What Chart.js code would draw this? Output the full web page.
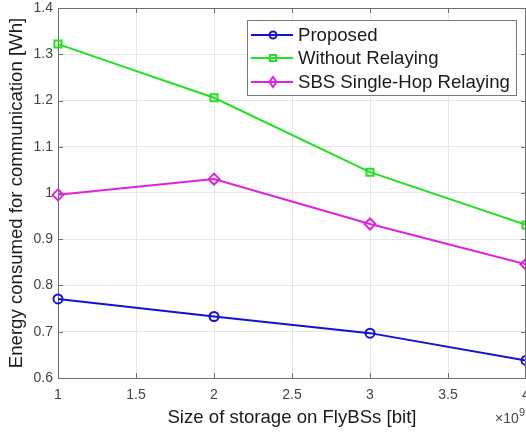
<!DOCTYPE html>
<html>
<head>
<meta charset="utf-8">
<script src="https://cdn.jsdelivr.net/npm/chart.js@4/dist/chart.umd.min.js"></script>
<style>
  html, body { margin: 0; padding: 0; background: #fff; }
  #wrap { width: 526px; height: 433px; }
</style>
</head>
<body>
<div id="wrap"><canvas id="mychart" width="526" height="433"></canvas></div>
<script>
'use strict'

// data

let storageSize = [1, 2, 3, 4]; // x 10^9 bit
let proposed = [0.771, 0.733, 0.697, 0.638];
let withoutRelaying = [1.322, 1.206, 1.045, 0.931];
let sbsSingleHop = [0.996, 1.030, 0.933, 0.846];

let seriesNames = ['Proposed', 'Without Relaying', 'SBS Single-Hop Relaying'];
let seriesColors = ['#1212d2', '#22e022', '#e020e0'];
let xTicks = [1, 1.5, 2, 2.5, 3, 3.5, 4];
let yTicks = [0.6, 0.7, 0.8, 0.9, 1, 1.1, 1.2, 1.3, 1.4];

const FONT = "'Liberation Sans', Arial, Helvetica, sans-serif";

function toPoints(values) {
  return storageSize.map((x, i) => ({ x: x, y: values[i] }));
}

// marker drawing for legend
function drawMarker(ctx, kind, x, y, color) {
  ctx.save();
  ctx.strokeStyle = color;
  ctx.lineWidth = 2;
  ctx.beginPath();
  if (kind === 'circle') {
    ctx.arc(x, y, 3.5, 0, Math.PI * 2);
  } else if (kind === 'rect') {
    ctx.rect(x - 3, y - 3, 6, 6);
  } else {
    ctx.moveTo(x, y - 5);
    ctx.lineTo(x + 3.5, y);
    ctx.lineTo(x, y + 5);
    ctx.lineTo(x - 3.5, y);
    ctx.closePath();
  }
  ctx.stroke();
  ctx.restore();
}

// box, inner ticks, legend and exponent
const matlabLook = {
  id: 'matlabLook',
  afterDraw(chart) {
    const ctx = chart.ctx;
    const a = chart.chartArea;
    const xs = chart.scales.x;
    const ys = chart.scales.y;

    ctx.save();
    ctx.strokeStyle = '#6e6e6e';
    ctx.lineWidth = 1;
    ctx.beginPath();
    ctx.moveTo(a.left, a.top + 0.5);
    ctx.lineTo(a.right, a.top + 0.5);
    ctx.moveTo(a.right - 0.5, a.top);
    ctx.lineTo(a.right - 0.5, a.bottom);
    for (let t of xTicks) {
      let px = Math.round(xs.getPixelForValue(t)) + 0.5;
      ctx.moveTo(px, a.bottom);
      ctx.lineTo(px, a.bottom - 5);
      ctx.moveTo(px, a.top);
      ctx.lineTo(px, a.top + 5);
    }
    for (let t of yTicks) {
      let py = Math.round(ys.getPixelForValue(t)) + 0.5;
      ctx.moveTo(a.left, py);
      ctx.lineTo(a.left + 5, py);
      ctx.moveTo(a.right, py);
      ctx.lineTo(a.right - 5, py);
    }
    ctx.stroke();

    // legend
    let bx = 247, by = 20, bw = 269, bh = 75;
    ctx.fillStyle = '#fff';
    ctx.fillRect(bx, by, bw, bh);
    ctx.strokeStyle = '#7a7a7a';
    ctx.strokeRect(bx + 0.5, by + 0.5, bw, bh);
    let kinds = ['circle', 'rect', 'diamond'];
    let rows = [35, 58, 82];
    ctx.font = '18.6px ' + FONT;
    ctx.textBaseline = 'middle';
    for (let i = 0; i < seriesNames.length; i++) {
      ctx.strokeStyle = seriesColors[i];
      ctx.lineWidth = 2;
      ctx.beginPath();
      ctx.moveTo(251, rows[i]);
      ctx.lineTo(293, rows[i]);
      ctx.stroke();
      drawMarker(ctx, kinds[i], 273, rows[i], seriesColors[i]);
      ctx.fillStyle = '#1a1a1a';
      ctx.fillText(seriesNames[i], 298, rows[i] + 1);
    }

    // x10^9
    ctx.fillStyle = '#444';
    ctx.font = '14px ' + FONT;
    ctx.textBaseline = 'alphabetic';
    ctx.fillText('\u00d710', 495, 423);
    ctx.font = '11px ' + FONT;
    ctx.fillText('9', 519, 416);
    ctx.restore();
  }
};

let ctxWindow = document.getElementById('mychart');

let myObj = {
  type: 'line',
  data: {
    datasets: [{
      label: seriesNames[0],
      data: toPoints(proposed),
      borderColor: seriesColors[0],
      backgroundColor: 'rgba(0,0,0,0)',
      pointStyle: 'circle',
      pointRadius: 4.5,
      pointBorderWidth: 2,
      borderWidth: 2,
      clip: 8
    },
    {
      label: seriesNames[1],
      data: toPoints(withoutRelaying),
      borderColor: seriesColors[1],
      backgroundColor: 'rgba(0,0,0,0)',
      pointStyle: 'rect',
      pointRadius: 5,
      pointBorderWidth: 2,
      borderWidth: 2,
      clip: 8
    },
    {
      label: seriesNames[2],
      data: toPoints(sbsSingleHop),
      borderColor: seriesColors[2],
      backgroundColor: 'rgba(0,0,0,0)',
      pointStyle: 'rectRot',
      pointRadius: 5.5,
      pointBorderWidth: 2,
      borderWidth: 2,
      clip: 8
    }]
  },
  options: {
    responsive: false,
    animation: false,
    layout: { autoPadding: false, padding: { top: 8, right: 0, left: 0, bottom: 0 } },
    plugins: {
      legend: { display: false },
      tooltip: { enabled: false }
    },
    scales: {
      x: {
        type: 'linear',
        min: 1,
        max: 4,
        afterBuildTicks: (scale) => { scale.ticks = xTicks.map(v => ({ value: v })); },
        afterFit: (scale) => { scale.height = 55; scale.paddingLeft = 0; scale.paddingRight = 0; },
        grid: { color: '#e6e6e6', drawTicks: false },
        border: { color: '#6e6e6e' },
        ticks: {
          padding: 9,
          color: '#444',
          font: { family: FONT, size: 14 },
          maxRotation: 0,
          callback: (v) => String(v)
        },
        title: {
          display: true,
          text: 'Size of storage on FlyBSs [bit]',
          color: '#1a1a1a',
          font: { family: FONT, size: 18.6 },
          padding: { top: 0, bottom: 4 }
        }
      },
      y: {
        min: 0.6,
        max: 1.4,
        afterBuildTicks: (scale) => { scale.ticks = yTicks.map(v => ({ value: v })); },
        afterFit: (scale) => { scale.width = 58; scale.paddingTop = 0; scale.paddingBottom = 0; },
        grid: { color: '#e6e6e6', drawTicks: false },
        border: { color: '#6e6e6e' },
        ticks: {
          padding: 5,
          color: '#444',
          font: { family: FONT, size: 14 },
          callback: (v) => String(+v.toFixed(2))
        },
        title: {
          display: true,
          text: 'Energy consumed for communication [Wh]',
          color: '#1a1a1a',
          font: { family: FONT, size: 18.6 },
          padding: { top: 6, bottom: 0 }
        }
      }
    }
  },
  plugins: [matlabLook]
};

const myChart = new Chart(ctxWindow, myObj);
</script>
</body>
</html>
